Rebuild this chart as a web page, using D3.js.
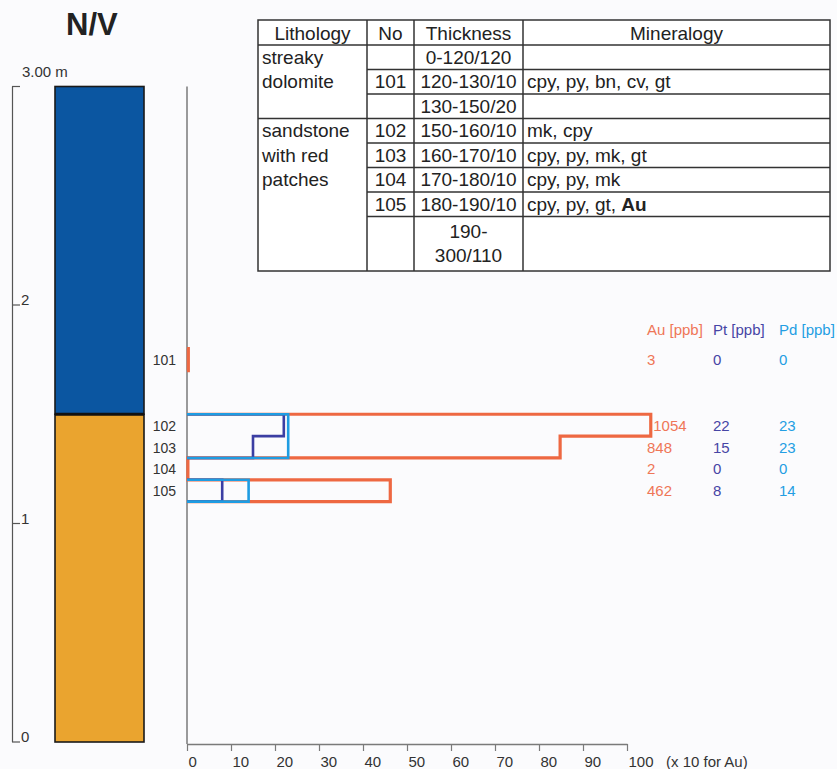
<!DOCTYPE html>
<html>
<head>
<meta charset="utf-8" />
<title>N/V profile</title>
<script src="https://cdnjs.cloudflare.com/ajax/libs/d3/7.8.5/d3.min.js"></script>
<style>
  body { margin: 0; background: #fbfbfd; }
  svg { display: block; font-family: "Liberation Sans", Arial, sans-serif; }
</style>
</head>
<body>
<div id="chart"></div>
<script>
// samples (depth in cm from top of profile)
const sampleNo = ["101", "102", "103", "104", "105"];
const sampleTop = [120, 150, 160, 170, 180];
const sampleBottom = [130, 160, 170, 180, 190];
const au = [3, 1054, 848, 2, 462]; // ppb, plotted /10
const pt = [0, 22, 15, 0, 8];
const pd = [0, 23, 23, 0, 14];

// lithology column
const lithoTop = [0, 150];
const lithoBottom = [150, 300];
const lithoColors = ["#0b56a1", "#eaa42f"];

// table
const tableHeader = ["Lithology", "No", "Thickness", "Mineralogy"];
const tableLithology = [["streaky", "dolomite"], ["sandstone", "with red", "patches"]];
const lithoRowSpan = [3, 5];
const tableNo = ["", "101", "", "102", "103", "104", "105", ""];
const tableThickness = ["0-120/120", "120-130/10", "130-150/20", "150-160/10",
  "160-170/10", "170-180/10", "180-190/10", "190-|300/110"];
const tableMineralogy = ["", "cpy, py, bn, cv, gt", "", "mk, cpy",
  "cpy, py, mk, gt", "cpy, py, mk", "cpy, py, gt, Au", ""];
const boldMineral = "Au";

// axes
const xTicks = [0, 10, 20, 30, 40, 50, 60, 70, 80, 90, 100];
const heightTicks = [0, 1, 2, 3];
const heightLabels = ["0", "1", "2", "3.00 m"];

const elements = [
  { name: "Au [ppb]", values: au, factor: 0.1, line: "#ee6842", text: "#ef7657", width: 3.2, tx: 647 },
  { name: "Pt [ppb]", values: pt, factor: 1, line: "#3b3ea3", text: "#4645a5", width: 2.6, tx: 713 },
  { name: "Pd [ppb]", values: pd, factor: 1, line: "#1e9ce2", text: "#239ee3", width: 2.6, tx: 779 }
];

const svg = d3.select("#chart").append("svg")
  .attr("width", 837)
  .attr("height", 769);

const depth = d3.scaleLinear().domain([0, 300]).range([86.5, 742]);
const elev = d3.scaleLinear().domain([0, 3]).range([742, 86.5]);
const x = d3.scaleLinear().domain([0, 100]).range([187, 627]);
const axisY = 744;

// title
svg.append("text")
  .attr("x", 66).attr("y", 35)
  .attr("font-size", 31).attr("font-weight", "bold")
  .attr("fill", "#222")
  .text("N/V");

// height scale on the far left
svg.append("line")
  .attr("x1", 12.5).attr("x2", 12.5)
  .attr("y1", elev(3)).attr("y2", elev(0))
  .attr("stroke", "#555").attr("stroke-width", 1.2);

svg.selectAll(".hTick")
  .data(heightTicks)
  .join("line")
  .attr("class", "hTick")
  .attr("x1", 12).attr("x2", 20)
  .attr("y1", (d) => elev(d)).attr("y2", (d) => elev(d))
  .attr("stroke", "#555").attr("stroke-width", 1.2);

svg.selectAll(".hLabel")
  .data(heightTicks)
  .join("text")
  .attr("class", "hLabel")
  .attr("x", (d) => (d === 3 ? 22 : 21))
  .attr("y", (d) => (d === 3 ? elev(d) - 10 : elev(d)))
  .attr("font-size", 15)
  .attr("fill", "#333")
  .text((d, i) => heightLabels[i]);

// lithology column
svg.selectAll(".litho")
  .data(lithoTop)
  .join("rect")
  .attr("class", "litho")
  .attr("x", 55).attr("width", 89)
  .attr("y", (d) => depth(d))
  .attr("height", (d, i) => depth(lithoBottom[i]) - depth(d))
  .attr("fill", (d, i) => lithoColors[i])
  .attr("stroke", "#1a1a1a").attr("stroke-width", 1.6);

svg.append("line")
  .attr("x1", 55).attr("x2", 144)
  .attr("y1", depth(lithoBottom[0])).attr("y2", depth(lithoBottom[0]))
  .attr("stroke", "#111").attr("stroke-width", 3);

// sample numbers
svg.selectAll(".sNo")
  .data(sampleNo)
  .join("text")
  .attr("class", "sNo")
  .attr("x", 176)
  .attr("y", (d, i) => depth((sampleTop[i] + sampleBottom[i]) / 2) + 5.5)
  .attr("text-anchor", "end")
  .attr("font-size", 14)
  .attr("fill", "#333")
  .text((d) => d);

// vertical base line of the plot
svg.append("line")
  .attr("x1", x(0)).attr("x2", x(0))
  .attr("y1", depth(0)).attr("y2", axisY)
  .attr("stroke", "#7a7a7a").attr("stroke-width", 1.5);

// x axis
const xAxis = svg.append("g")
  .attr("transform", `translate(0,${axisY})`)
  .call(d3.axisBottom(x).tickValues(xTicks).tickSize(7).tickSizeOuter(0));
xAxis.select(".domain").attr("stroke", "#7a7a7a").attr("stroke-width", 1.5);
xAxis.selectAll(".tick line").attr("stroke", "#7a7a7a").attr("stroke-width", 1.2);
xAxis.selectAll(".tick text")
  .attr("text-anchor", "start")
  .attr("x", 1)
  .attr("y", 12)
  .attr("font-size", 15)
  .attr("font-family", "Liberation Sans, Arial, sans-serif")
  .attr("fill", "#333");

svg.append("text")
  .attr("x", 666).attr("y", axisY + 22.5)
  .attr("font-size", 15).attr("fill", "#333")
  .text("(x 10 for Au)");

// step outlines: one path per run of adjacent, non-zero samples
function runs(values) {
  const out = [];
  let cur = null;
  values.forEach((v, i) => {
    const joined = cur && sampleTop[i] === sampleBottom[i - 1];
    if (v === 0) { cur = null; return; }
    if (!joined) { cur = []; out.push(cur); }
    cur.push(i);
  });
  return out;
}

const lineGen = d3.line();

elements.forEach((el) => {
  const paths = runs(el.values).map((idx) => {
    const pts = [[x(0), depth(sampleTop[idx[0]])]];
    idx.forEach((i) => {
      const v = x(el.values[i] * el.factor);
      pts.push([v, depth(sampleTop[i])]);
      pts.push([v, depth(sampleBottom[i])]);
    });
    pts.push([x(0), depth(sampleBottom[idx[idx.length - 1]])]);
    return pts;
  });
  svg.append("g").selectAll("path")
    .data(paths)
    .join("path")
    .attr("d", lineGen)
    .attr("fill", "none")
    .attr("stroke", el.line)
    .attr("stroke-width", el.width);
});

// value columns (pushed right if the outline reaches into the column)
elements.forEach((el) => {
  const g = svg.append("g").attr("fill", el.text).attr("font-size", 15);
  g.append("text").attr("x", el.tx).attr("y", 335).text(el.name);
  g.selectAll(".val")
    .data(el.values)
    .join("text")
    .attr("class", "val")
    .attr("x", (d) => Math.max(el.tx, x(d * el.factor) + 2.5))
    .attr("y", (d, i) => depth((sampleTop[i] + sampleBottom[i]) / 2) + 5.5)
    .text((d) => d);
});

// table
const colX = [258, 367, 414, 523, 830];
const rowY = [20, 45];
for (let i = 1; i < tableNo.length; i++) rowY.push(45 + i * 24.5);
rowY.push(271);

const table = svg.append("g")
  .attr("font-size", 19)
  .attr("fill", "#222");

table.append("rect")
  .attr("x", colX[0]).attr("y", rowY[0])
  .attr("width", colX[4] - colX[0]).attr("height", rowY[rowY.length - 1] - rowY[0])
  .attr("fill", "#fff")
  .attr("stroke", "#333").attr("stroke-width", 1.5);

table.selectAll(".vline")
  .data(colX.slice(1, 4))
  .join("line")
  .attr("class", "vline")
  .attr("x1", (d) => d).attr("x2", (d) => d)
  .attr("y1", rowY[0]).attr("y2", rowY[rowY.length - 1])
  .attr("stroke", "#333").attr("stroke-width", 1.5);

// horizontal lines; full width only where the lithology changes
const groupEnds = d3.cumsum(lithoRowSpan);
table.selectAll(".hline")
  .data(rowY.slice(1, rowY.length - 1))
  .join("line")
  .attr("class", "hline")
  .attr("x1", (d, i) => (i === 0 || groupEnds.includes(i) ? colX[0] : colX[1]))
  .attr("x2", colX[4])
  .attr("y1", (d) => d).attr("y2", (d) => d)
  .attr("stroke", "#333").attr("stroke-width", 1.5);

table.selectAll(".head")
  .data(tableHeader)
  .join("text")
  .attr("class", "head")
  .attr("x", (d, i) => (colX[i] + colX[i + 1]) / 2)
  .attr("y", rowY[0] + 20)
  .attr("text-anchor", "middle")
  .text((d) => d);

const rowBase = (r) => (rowY[r + 1] + rowY[r + 2]) / 2 + 6.5;

tableLithology.forEach((lines, g) => {
  const startRow = g === 0 ? 0 : groupEnds[g - 1];
  table.selectAll(null)
    .data(lines)
    .join("text")
    .attr("x", colX[0] + 4)
    .attr("y", (d, k) => rowBase(startRow + k))
    .text((d) => d);
});

table.selectAll(".no")
  .data(tableNo)
  .join("text")
  .attr("class", "no")
  .attr("x", (colX[1] + colX[2]) / 2)
  .attr("y", (d, r) => rowBase(r))
  .attr("text-anchor", "middle")
  .text((d) => d);

table.selectAll(".thick")
  .data(tableThickness)
  .join("text")
  .attr("class", "thick")
  .attr("text-anchor", "middle")
  .attr("y", (d, r) => rowBase(r) - (d.includes("|") ? 12 : 0))
  .each(function (d) {
    d3.select(this).selectAll("tspan")
      .data(d.split("|"))
      .join("tspan")
      .attr("x", (colX[2] + colX[3]) / 2)
      .attr("dy", (t, k) => (k === 0 ? 0 : 24))
      .text((t) => t);
  });

table.selectAll(".min")
  .data(tableMineralogy)
  .join("text")
  .attr("class", "min")
  .attr("x", colX[3] + 4)
  .attr("y", (d, r) => rowBase(r))
  .each(function (d) {
    const parts = d === "" ? [] : d.split(", ");
    d3.select(this).selectAll("tspan")
      .data(parts)
      .join("tspan")
      .attr("font-weight", (t) => (t === boldMineral ? "bold" : null))
      .text((t, k) => (k < parts.length - 1 ? t + ", " : t));
  });
</script>
</body>
</html>
